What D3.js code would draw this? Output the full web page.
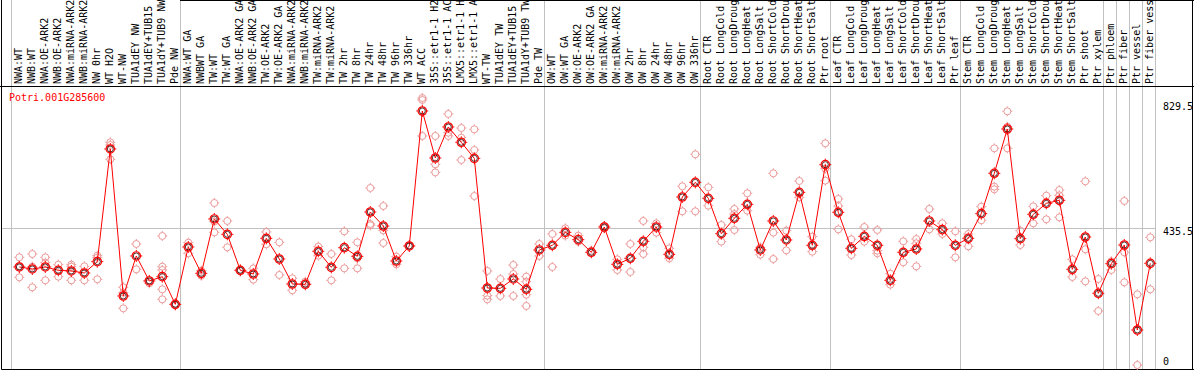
<!DOCTYPE html>
<html>
<head>
<meta charset="utf-8">
<script src="https://cdn.jsdelivr.net/npm/d3@7"></script>
<style>
body { margin: 0; background: #fff; }
text { font-family: "DejaVu Sans Mono", monospace; font-size: 10px; }
</style>
</head>
<body>
<div id="chart"></div>
<script>
const geneId = 'Potri.001G285600';

// sample labels (cut to 14 chars like the original)
const labels = [
    'NWA:WT', 'NWB:WT', 'NWA:OE-ARK2', 'NWB:OE-ARK2', 'NWA:miRNA-ARK2', 'NWB:miRNA-ARK2', 'NW 0hr', 'WT H2O',
    'WT-NW', 'TUA1dEY NW', 'TUA1dEY+TUB15', 'TUA1dY+TUB9 NW', 'Pde NW',
    'NWA:WT GA', 'NWBWT GA', 'TW:WT', 'TW:WT GA', 'NWA:OE-ARK2 GA', 'NWB:OE-ARK2 GA', 'TW:OE-ARK2', 'TW:OE-ARK2 GA',
    'NWA:miRNA-ARK2', 'NWB:miRNA-ARK2', 'TW:miRNA-ARK2', 'TW:miRNA-ARK2', 'TW 2hr', 'TW 8hr', 'TW 24hr', 'TW 48hr',
    'TW 96hr', 'TW 336hr', 'WT ACC', '35S::etr1-1 H2', '35S::etr1-1 AC', 'LMX5::etr1-1 H', 'LMX5::etr1-1 A',
    'WT-TW', 'TUA1dEY TW', 'TUA1dEY+TUB15', 'TUA1dY+TUB9 TW', 'Pde TW',
    'OW:WT', 'OW:WT GA', 'OW:OE-ARK2', 'OW:OE-ARK2 GA', 'OW:miRNA-ARK2', 'OW:miRNA-ARK2', 'OW 2hr', 'OW 8hr',
    'OW 24hr', 'OW 48hr', 'OW 96hr', 'OW 336hr',
    'Root CTR', 'Root LongCold', 'Root LongDroug', 'Root LongHeat', 'Root LongSalt', 'Root ShortCold',
    'Root ShortDrou', 'Root ShortHeat', 'Root ShortSalt', 'Ptr root',
    'Leaf CTR', 'Leaf LongCold', 'Leaf LongDroug', 'Leaf LongHeat', 'Leaf LongSalt', 'Leaf ShortCold',
    'Leaf ShortDrou', 'Leaf ShortHeat', 'Leaf ShortSalt', 'Ptr leaf',
    'Stem CTR', 'Stem LongCold', 'Stem LongDroug', 'Stem LongHeat', 'Stem LongSalt', 'Stem ShortCold',
    'Stem ShortDrou', 'Stem ShortHeat', 'Stem ShortSalt', 'Ptr shoot', 'Ptr xylem',
    'Ptr phloem', 'Ptr fiber', 'Ptr vessel', 'Ptr fiber vess'
];

// index of the first sample of each group (last = end)
const groupStarts = [0, 13, 41, 53, 63, 73, 84, 85, 86, 87, 88];

const means = [
    312.7, 306.4, 312.7, 302.2, 300.1, 293.8, 329.5, 684.6, 221.3, 347.4, 268.6, 282.2, 195.0,
    375.7, 292.7, 464.0, 415.6, 302.2, 290.6, 403.0, 337.9, 259.1, 258.1, 362.1, 311.6, 373.6, 346.3,
    486.0, 441.9, 331.6, 378.9, 804.3, 656.2, 753.9, 705.6, 655.1, 246.5, 245.5, 274.9, 242.3, 366.3,
    381.0, 421.9, 398.8, 358.9, 438.7, 321.1, 340.0, 393.6, 438.7, 352.6, 533.3, 579.5,
    529.1, 417.7, 466.1, 510.2, 366.3, 457.7, 397.8, 548.0, 381.0, 635.2,
    485.0, 371.5, 409.3, 381.0, 270.7, 358.9, 369.4, 457.7, 430.3, 381.0,
    403.0, 480.8, 607.9, 747.6, 402.0, 478.7, 513.3, 522.8, 305.3, 407.2, 229.7,
    323.2, 382.0, 114.1, 324.2
];

const reps = [
    [343.1, 315.8, 280.1], [353.7, 313.7, 248.6], [343.1, 326.3, 270.7], [320.0, 282.2],
    [320.0, 313.7, 270.7], [314.8, 270.7], [348.4, 342.1, 273.8], [705.6, 697.2, 652.0],
    [248.6, 231.8, 182.4], [385.2, 305.3], [270.7, 261.2], [410.4, 313.7, 303.2, 242.3, 210.8],
    [197, 193],
    [389.4, 355.8], [301.1, 285.4], [514.4, 455.6, 421.9], [457.7, 374.7], [304, 300],
    [308.5, 272.8], [423.0, 384.1], [390.4, 287.5], [277.0, 239.1], [266.5, 261.0],
    [376.8, 348.4], [353.7, 270.7], [425.1, 308.5], [390.4, 340.0, 308.5], [561.7, 448.2, 444.0],
    [504.9, 428.2, 388.3], [345.2, 321.1], [379.9, 376.8], [845.3, 839.0, 725.5],
    [725.5, 636.2, 611.0], [794.9, 736.0, 725.5], [750.7, 720.3, 649.9], [746.5, 681.4, 536.4],
    [300.1, 222.3, 210.8], [274.9, 221.3], [319.0, 290.6, 221.3], [282.2, 266.5, 225.5, 189.8],
    [385.2, 347.4],
    [416.7, 312.7], [434.5, 411.4], [411.4, 392.5], [364.2], [441.9, 434.5], [336.8, 303.2],
    [385.2, 296.9], [457.7, 374.7, 353.7], [450.3, 420.9], [371.5, 340.0], [566.9, 488.1],
    [667.8, 488.1],
    [563.8, 506.0], [445.0, 392.5], [495.5, 479.7, 429.3], [544.8, 490.2], [374.7, 351.5],
    [607.9, 420.9, 337.9], [427.2, 365.2], [583.7, 532.2], [408.3, 361.0], [702.4, 622.6, 584.8],
    [527.0, 504.9, 431.4], [399.9, 350.5], [438.7, 392.5], [429.3, 364.2, 355.8], [291.7, 257.0],
    [393.6, 327.4], [400.9, 387.3, 314.8], [495.5, 431.4], [450.3, 416.7], [425.1, 343.1],
    [416.7, 377.8], [502.8, 459.8], [686.7, 565.9, 557.5], [803.3, 754.9, 686.7], [427.2, 382.0],
    [503.9, 450.3], [537.5, 462.9], [555.3, 538.5, 469.2], [336.8, 281.2], [582.7, 368.4, 267.5],
    [274.9, 174.0],
    [330.5, 303.2], [520.7, 358.9, 264.4], [226.5, 3.8], [406.2, 242.3]
];

const yTicks = [829.5, 435.5, 0];
const yGrid = [435.5];

const width = 1194, height = 370;
const svg = d3.select('#chart')
    .append('svg')
    .attr('width', width)
    .attr('height', height);

const x = d3.scaleLinear().domain([0, labels.length - 1]).range([19.3, 1150.3]);
const y = d3.scaleLinear().domain([0, 829.5]).range([366.2, 103]);

const plotRight = x(labels.length) - 8;   // 1155
const headerY = 86.5, bottomY = 369.5;

// gray group separators
svg.append('g')
    .selectAll('line')
    .data(groupStarts)
    .enter()
    .append('line')
    .attr('x1', d => Math.round(x(d) - 8) + 0.5)
    .attr('x2', d => Math.round(x(d) - 8) + 0.5)
    .attr('y1', 0)
    .attr('y2', bottomY)
    .attr('stroke', '#c0c0c0');

// horizontal grid
svg.append('g')
    .selectAll('line')
    .data(yGrid)
    .enter()
    .append('line')
    .attr('x1', 1)
    .attr('x2', plotRight)
    .attr('y1', d => Math.round(y(d)) + 0.5)
    .attr('y2', d => Math.round(y(d)) + 0.5)
    .attr('stroke', '#c0c0c0');

// frame
const frame = svg.append('g').attr('stroke', '#000').attr('fill', 'none');
frame.append('line').attr('x1', 0).attr('x2', width).attr('y1', headerY).attr('y2', headerY);
frame.append('line').attr('x1', 1.5).attr('x2', width).attr('y1', bottomY).attr('y2', bottomY);
frame.append('line').attr('x1', 1.5).attr('x2', 1.5).attr('y1', 0).attr('y2', bottomY);
frame.append('line').attr('x1', width - 1.5).attr('x2', width - 1.5).attr('y1', 0).attr('y2', bottomY);
frame.append('line').attr('x1', 180).attr('x2', width).attr('y1', 0.5).attr('y2', 0.5);

// rotated sample labels
svg.append('g')
    .selectAll('text')
    .data(labels)
    .enter()
    .append('text')
    .attr('transform', (d, i) => `translate(${x(i) + 2.6},${headerY - 2.5}) rotate(-90)`)
    .attr('fill', '#000')
    .text(d => d);

// title
svg.append('text')
    .attr('x', 9)
    .attr('y', 100.5)
    .attr('fill', '#ff0000')
    .text(geneId);

// right value labels
svg.append('g')
    .selectAll('text')
    .data(yTicks)
    .enter()
    .append('text')
    .attr('x', 1163)
    .attr('y', d => d === 0 ? y(d) - 0.8 : y(d) + 7.3)
    .attr('fill', '#000')
    .text(d => d);

const ticks = (g, r0, r1) => {
    [[0, -1], [0, 1], [-1, 0], [1, 0]].forEach(([dx, dy]) => {
        g.append('line')
            .attr('x1', dx * r0).attr('y1', dy * r0)
            .attr('x2', dx * r1).attr('y2', dy * r1);
    });
};

// replicate points
const repPts = [];
reps.forEach((arr, i) => arr.forEach(v => repPts.push({ i, v })));

svg.append('g')
    .selectAll('g')
    .data(repPts)
    .enter()
    .append('g')
    .attr('transform', d => `translate(${x(d.i)},${y(d.v)})`)
    .attr('stroke', '#ec9a9a')
    .attr('fill', 'none')
    .each(function () {
        const g = d3.select(this);
        g.append('circle').attr('r', 3.5);
        ticks(g, 3.5, 5);
    });

// mean line
const line = d3.line()
    .x((d, i) => x(i))
    .y(d => y(d));

svg.append('path')
    .datum(means)
    .attr('d', line)
    .attr('fill', 'none')
    .attr('stroke', '#ff0000')
    .attr('stroke-width', 1);

// mean markers
svg.append('g')
    .selectAll('g')
    .data(means)
    .enter()
    .append('g')
    .attr('transform', (d, i) => `translate(${x(i)},${y(d)})`)
    .attr('fill', 'none')
    .each(function () {
        const g = d3.select(this);
        g.append('circle').attr('r', 4.2).attr('stroke', '#ff0000').attr('stroke-width', 1.2);
        g.append('circle').attr('r', 3).attr('stroke', '#300000').attr('stroke-width', 0.8);
        const t = g.append('g').attr('stroke', '#ff0000');
        ticks(t, 4.5, 6);
    });
</script>
</body>
</html>
